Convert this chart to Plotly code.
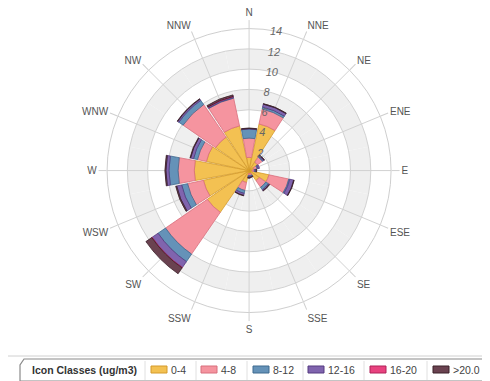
import numpy as np
import plotly.graph_objects as go

directions = ["N", "NNE", "NE", "ENE", "E", "ESE", "SE", "SSE",
              "S", "SSW", "SW", "WSW", "W", "WNW", "NW", "NNW"]

classes = ["0-4", "4-8", "8-12", "12-16", "16-20", ">20.0"]

c_0_4 = [1.3, 4.7, 1.0, 0.5, 0.3, 2.0, 1.2, 0.3, 0.3, 1.2, 5.0, 4.6, 5.4, 4.3, 4.0, 4.5]
c_4_8 = [1.9, 1.5, 0.6, 0.3, 0.2, 2.0, 0.8, 0.2, 0.2, 0.8, 5.0, 1.6, 1.6, 0.9, 3.9, 2.8]
c_8_12 = [0.9, 0.2, 0.1, 0.1, 0.1, 0.1, 0.3, 0.1, 0.1, 0.3, 0.9, 0.6, 0.9, 0.4, 0.5, 0.05]
c_12_16 = [0.05, 0.3, 0.1, 0.15, 0.1, 0.4, 0.1, 0.05, 0.1, 0.2, 0.7, 0.5, 0.3, 0.3, 0.15, 0.1]
c_16_20 = [0, 0, 0, 0, 0, 0, 0, 0, 0, 0, 0.05, 0, 0, 0, 0, 0.03]
c_gt_20 = [0.05, 0.05, 0.05, 0, 0.05, 0.05, 0.05, 0.05, 0.05, 0.05, 0.7, 0.1, 0.1, 0.05, 0.05, 0.15]

radial_ticks = [2, 4, 6, 8, 10, 12, 14]

series = [c_0_4, c_4_8, c_8_12, c_12_16, c_16_20, c_gt_20]
fills = ["#f3c152", "#f5949f", "#6592b8", "#8064ae", "#e8427f", "#6a4250"]
edges = ["#d49a2a", "#d86f7c", "#3f6a8f", "#553a80", "#b02058", "#3a2028"]

W, H = 490, 381


def px(x, y):
    return x / W, 1 - y / H


fig = go.Figure()

# grey background rings (2-4, 6-8, 10-12) on the lower polar
for lo in [2, 6, 10]:
    fig.add_trace(go.Barpolar(
        r=[2] * len(directions), base=lo, theta=directions, width=1,
        marker=dict(color="#efefef", line=dict(width=0)),
        showlegend=False, hoverinfo="skip", subplot="polar",
    ))

base = np.zeros(len(directions))
for name, vals, fc, ec in zip(classes, series, fills, edges):
    fig.add_trace(go.Barpolar(
        r=vals, base=base.copy(), theta=directions, width=0.93, name=name,
        marker=dict(color=fc, line=dict(color=ec, width=0.8)),
        subplot="polar2", showlegend=False,
    ))
    base += np.array(vals)

domain = dict(x=[0.2022, 0.7818], y=[0.2006, 0.946])

# legend box drawn by hand
shapes = []
box = [(16, 351), (481, 351), (481, 365), (475, 373), (12, 373), (12, 357)]
path = "M " + " L ".join(f"{px(x, y)[0]:.4f},{px(x, y)[1]:.4f}" for x, y in box) + " Z"
shapes.append(dict(type="path", xref="paper", yref="paper", path=path,
                   line=dict(color="#8a8a8a", width=1.2), fillcolor="white"))
x0, y0 = px(0, 348)
x1, _ = px(490, 348)
shapes.append(dict(type="line", xref="paper", yref="paper", x0=x0, x1=x1, y0=y0, y1=y0,
                   line=dict(color="#d0d0d0", width=1)))
separators = [137, 188, 239, 295, 356, 419]
swatch_x = [143, 193, 245, 300, 362, 425]
annotations = [dict(text="<b>Icon Classes (ug/m3)</b>", xref="paper", yref="paper",
                    x=px(22, 0)[0], y=px(0, 362)[1], xanchor="left", yanchor="middle",
                    showarrow=False, font=dict(size=10.5, color="#333"))]
for sep, sx, name, fc, ec in zip(separators, swatch_x, classes, fills, edges):
    a, b = px(sep, 353)
    _, c = px(sep, 372)
    shapes.append(dict(type="line", xref="paper", yref="paper", x0=a, x1=a, y0=b, y1=c,
                       line=dict(color="#e0e0e0", width=1)))
    ax0, ay0 = px(sx, 358)
    ax1, ay1 = px(sx + 16, 365)
    shapes.append(dict(type="rect", xref="paper", yref="paper", x0=ax0, x1=ax1, y0=ay0, y1=ay1,
                       fillcolor=fc, line=dict(color=ec, width=1)))
    annotations.append(dict(text=name, xref="paper", yref="paper",
                            x=px(sx + 18, 0)[0], y=px(0, 362)[1], xanchor="left",
                            yanchor="middle", showarrow=False,
                            font=dict(size=10.5, color="#444")))

fig.update_layout(
    width=W, height=H,
    margin=dict(l=0, r=0, t=0, b=0, autoexpand=False),
    paper_bgcolor="white",
    font=dict(family="Liberation Sans, Arial", color="#555"),
    showlegend=False,
    shapes=shapes,
    annotations=annotations,
    polar=dict(
        domain=domain,
        bgcolor="white",
        barmode="overlay",
        radialaxis=dict(range=[0, 14], visible=False),
        angularaxis=dict(
            direction="clockwise", rotation=90, categoryarray=directions,
            showticklabels=False, ticks="", showgrid=False, showline=False,
        ),
    ),
    polar2=dict(
        domain=domain,
        bgcolor="rgba(0,0,0,0)",
        barmode="overlay",
        radialaxis=dict(
            range=[0, 14], tickvals=radial_ticks, angle=84, side="clockwise",
            tickangle=84, showline=False, ticks="", gridcolor="#d2d2d2",
            tickfont=dict(size=11, color="#666", style="italic"),
        ),
        angularaxis=dict(
            direction="clockwise", rotation=90, categoryarray=directions,
            tickfont=dict(size=10, color="#555"),
            showline=True, linecolor="#cfcfcf", gridcolor="#d2d2d2",
            ticks="outside", ticklen=8, tickcolor="#cfcfcf",
        ),
    ),
)

fig.write_html("out.html")
